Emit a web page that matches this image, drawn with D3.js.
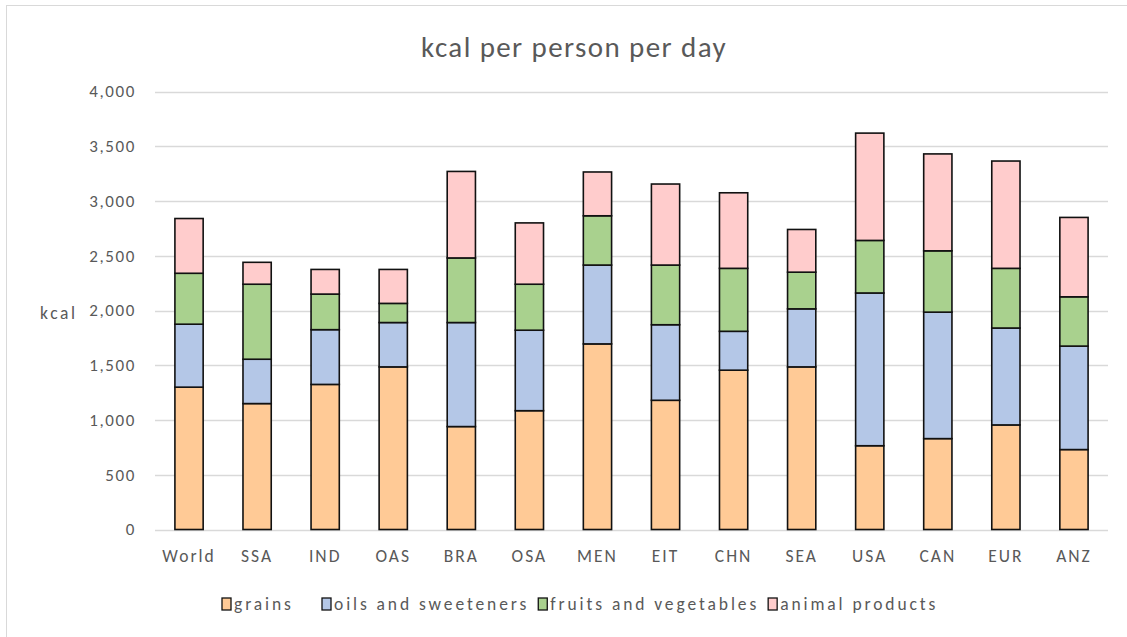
<!DOCTYPE html>
<html>
<head>
<meta charset="utf-8">
<script src="https://cdn.jsdelivr.net/npm/d3@7"></script>
<style>
  html, body { margin: 0; padding: 0; background: #fff; }
  svg text { font-family: Carlito, Lato, "Open Sans", sans-serif; fill: #595959; }
</style>
</head>
<body>
<svg id="chart" width="1127" height="637"></svg>
<script>
// Regions and daily kcal per person by food group
const regions = ["World", "SSA", "IND", "OAS", "BRA", "OSA", "MEN", "EIT", "CHN", "SEA", "USA", "CAN", "EUR", "ANZ"];
const grains = [1300, 1150, 1325, 1485, 940, 1085, 1695, 1180, 1455, 1485, 765, 830, 955, 730];
const oilsSweeteners = [575, 405, 500, 405, 950, 735, 720, 690, 355, 530, 1395, 1155, 885, 945];
const fruitsVegetables = [465, 685, 325, 175, 590, 420, 450, 545, 575, 335, 480, 560, 545, 450];
const animalProducts = [500, 200, 225, 310, 790, 560, 400, 740, 690, 390, 980, 885, 980, 725];
const yTicks = [0, 500, 1000, 1500, 2000, 2500, 3000, 3500, 4000];

const seriesKeys = ["grains", "oils and sweeteners", "fruits and vegetables", "animal products"];
const seriesValues = [grains, oilsSweeteners, fruitsVegetables, animalProducts];
const colors = ["#FFCA96", "#B4C7E7", "#A9D18E", "#FFCCCC"];

const rows = regions.map((r, i) => {
  const o = { region: r };
  seriesKeys.forEach((k, j) => { o[k] = seriesValues[j][i]; });
  return o;
});

const svg = d3.select("#chart");
const plot = { left: 155, right: 1108, top: 91.5, bottom: 529.5 };
const FONT = "Carlito, Lato, 'Open Sans', sans-serif";

// chart frame
svg.append("rect")
  .attr("x", 6.5).attr("y", 5.5)
  .attr("width", 1130).attr("height", 640)
  .attr("fill", "#fff").attr("stroke", "#d9d9d9").attr("stroke-width", 1);

const x = d3.scaleBand().domain(regions).range([plot.left, plot.right]).paddingInner(0.585).paddingOuter(0.2925);
const y = d3.scaleLinear().domain([0, 4000]).range([plot.bottom, plot.top]);

// gridlines
svg.append("g").selectAll("line").data(yTicks).join("line")
  .attr("x1", plot.left).attr("x2", plot.right)
  .attr("y1", d => Math.round(y(d)) + 0.5).attr("y2", d => Math.round(y(d)) + 0.5)
  .attr("stroke", "#d9d9d9").attr("stroke-width", 1.3);

// y axis labels
const yAxis = d3.axisLeft(y).tickValues(yTicks).tickFormat(d3.format(",")).tickSize(0).tickPadding(0);
const yg = svg.append("g").attr("transform", `translate(${plot.left - 19},0)`).call(yAxis);
yg.select(".domain").remove();
yg.selectAll("text").attr("font-size", 17).attr("letter-spacing", 1.6)
  .style("font-family", FONT).attr("fill", "#595959");

// x axis labels
const xAxis = d3.axisBottom(x).tickSize(0).tickPadding(0);
const xg = svg.append("g").attr("transform", `translate(0,${plot.bottom + 20})`).call(xAxis);
xg.select(".domain").remove();
xg.selectAll("text").attr("font-size", 17.5).attr("letter-spacing", 2)
  .style("font-family", FONT).attr("fill", "#595959");

// stacked bars
const stacked = d3.stack().keys(seriesKeys)(rows);
svg.append("g").selectAll("g").data(stacked).join("g")
  .attr("fill", (d, i) => colors[i])
  .selectAll("rect").data(d => d).join("rect")
  .attr("x", d => x(d.data.region))
  .attr("width", x.bandwidth())
  .attr("y", d => y(d[1]))
  .attr("height", d => y(d[0]) - y(d[1]))
  .attr("stroke", "#111").attr("stroke-width", 1.6);

// title
svg.append("text")
  .attr("x", 574).attr("y", 57)
  .attr("text-anchor", "middle")
  .attr("font-size", 29).attr("letter-spacing", 1.4)
  .text("kcal per person per day");

// y axis title
svg.append("text")
  .attr("x", 40).attr("y", 319)
  .attr("font-size", 17.5).attr("letter-spacing", 2.6)
  .text("kcal");

// legend: entries laid out left to right, each after the previous label
const lg = svg.append("g").attr("transform", "translate(0,598)");
let cursor = 222;
seriesKeys.forEach((key, i) => {
  const item = lg.append("g").attr("transform", `translate(${cursor},0)`);
  item.append("rect").attr("width", 9).attr("height", 12)
    .attr("fill", colors[i]).attr("stroke", "#111").attr("stroke-width", 1.3);
  const t = item.append("text").attr("x", 12).attr("y", 12)
    .attr("font-size", 17.5).attr("letter-spacing", 2.9)
    .text(key);
  const w = t.node().getComputedTextLength();
  cursor += i === 0 ? 100 : 12 + w + 9;
});
</script>
</body>
</html>
